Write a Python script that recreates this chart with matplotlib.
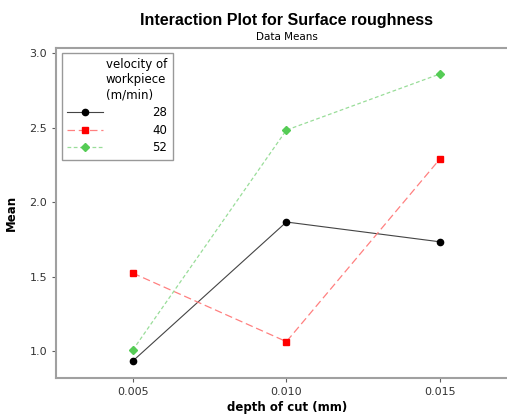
import matplotlib
matplotlib.use("Agg")
import matplotlib.pyplot as plt

depth = [0.005, 0.010, 0.015]
xticklabels = ["0.005", "0.010", "0.015"]
v28 = [0.933, 1.866, 1.733]
v40 = [1.523, 1.063, 2.290]
v52 = [1.007, 2.483, 2.860]
yticks = [1.0, 1.5, 2.0, 2.5, 3.0]
series_labels = ["28", "40", "52"]

plt.rcParams['font.family'] = ['DejaVu Sans']
fig = plt.figure(figsize=(5.07, 4.15), dpi=100)
ax = fig.add_axes([56/507, 1-378/415, 1-56/507, (378-48)/415])

ax.plot(depth, v28, color='#444444', lw=0.8, marker='o', ms=4.5,
        mfc='black', mec='black', label=series_labels[0])
ax.plot(depth, v40, color='#ff8080', lw=0.9, ls=(0, (6, 3)), marker='s', ms=4.5,
        mfc='#ff0000', mec='#ff0000', label=series_labels[1])
ax.plot(depth, v52, color='#99dd99', lw=0.9, ls=(0, (3, 2)), marker='D', ms=3.8,
        mfc='#55cc55', mec='#55cc55', label=series_labels[2])

ax.set_xlim(0.0025, 0.01718)
ax.set_ylim(0.819, 3.034)
ax.set_xticks(depth)
ax.set_xticklabels(xticklabels)
ax.set_yticks(yticks)
ax.set_yticklabels([f"{t:.1f}" for t in yticks])
for s in ['top', 'left', 'bottom']:
    ax.spines[s].set_color('#a0a0a0')
    ax.spines[s].set_linewidth(1.5)
ax.spines['right'].set_visible(False)
ax.tick_params(axis='both', labelsize=8, length=3, width=0.8, colors='#333333')
ax.tick_params(axis='both', color='#606060')

ax.set_xlabel("depth of cut (mm)", fontsize=8.5, fontweight='bold')
ax.set_ylabel("Mean", fontsize=8.5, fontweight='bold')
ax.xaxis.set_label_coords((287-56)/451, -0.07)
ax.yaxis.set_label_coords((18-56)/451, 0.5)

fig.text(287/507, 1-20/415, "Interaction Plot for Surface roughness", ha='center', va='center',
         fontsize=11.5, fontweight='bold', family=['Liberation Sans'])
fig.text(287/507, 1-37/415, "Data Means", ha='center', va='center', fontsize=7.5)

leg = ax.legend(title="velocity of\nworkpiece\n(m/min)", loc='upper left',
                bbox_to_anchor=(6/451, 1-5/330), fontsize=8.5, title_fontsize=8.5,
                handlelength=3.0, handletextpad=4.2, borderpad=0.45, labelspacing=0.4,
                fancybox=False, frameon=True, alignment='right', borderaxespad=0)
leg.get_title().set_linespacing(1.2)
leg.get_frame().set_edgecolor('#808080')
leg.get_frame().set_linewidth(1.0)
fig.savefig("out.png", dpi=100)
